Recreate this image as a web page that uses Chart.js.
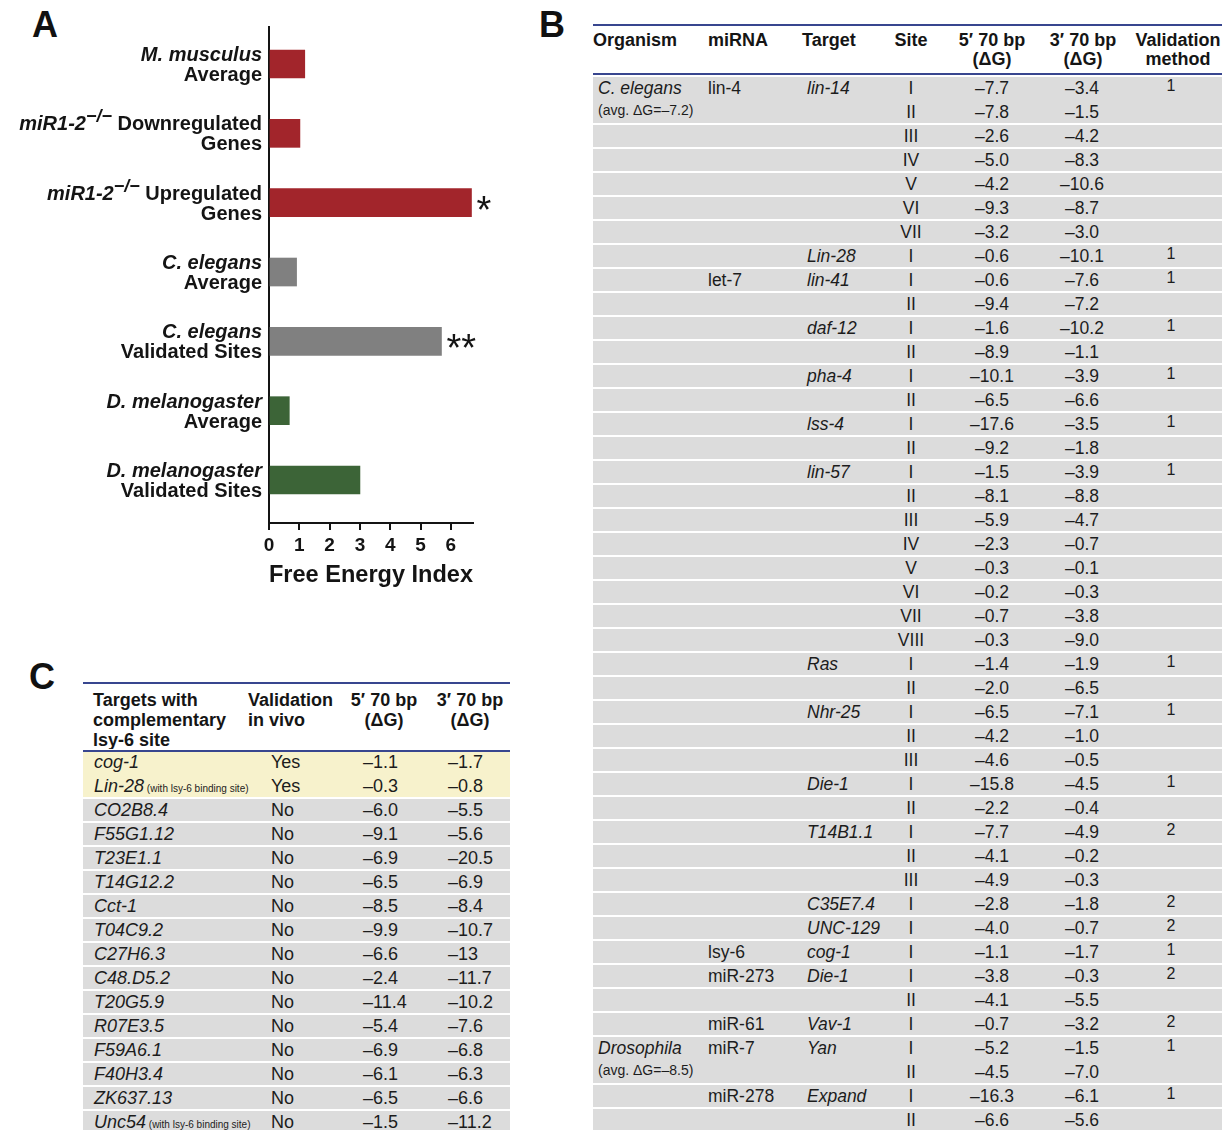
<!DOCTYPE html>
<html>
<head>
<meta charset="utf-8">
<title>Free energy of miRNA target flanks</title>
<script src="https://cdn.jsdelivr.net/npm/chart.js@4.4.0/dist/chart.umd.min.js"></script>
<style>
  html, body { margin: 0; padding: 0; background: #fff; }
  body {
    width: 1230px; height: 1130px; position: relative; overflow: hidden;
    font-family: "Liberation Sans", Arial, Helvetica, sans-serif; color: #1c1c1c;
  }
  .letter { position: absolute; font-weight: bold; font-size: 36px; line-height: 36px; color: #111; }
  #chartA { position: absolute; left: 0; top: 0; }
  .rule { position: absolute; height: 2px; background: #38468f; z-index: 3; }
  .row { position: absolute; box-sizing: border-box; height: 24px; border-top: 2px solid #fff; }
  .cell { position: absolute; top: 0; line-height: 22px; white-space: nowrap; z-index: 2; }
  .hdr { position: absolute; font-weight: bold; font-size: 18px; line-height: 19px; white-space: nowrap; color: #151515; }
  .c { text-align: center; }
  .i { font-style: italic; }
</style>
</head>
<body>
<div class="letter" style="left:32px; top:7px;">A</div>
<div class="letter" style="left:539px; top:7px;">B</div>
<div class="letter" style="left:29px; top:659px;">C</div>

<canvas id="chartA" width="520" height="600"></canvas>
<div id="tableB"></div>
<div id="tableC"></div>

<script>
// ---------- Panel A: free energy index per gene set ----------
const categoryLabels = [
  [[['M. musculus', 'bi']], [['Average', 'b']]],
  [[['miR1-2', 'bi'], ['\u2212/\u2212', 'sup'], [' Downregulated', 'b']], [['Genes', 'b']]],
  [[['miR1-2', 'bi'], ['\u2212/\u2212', 'sup'], [' Upregulated', 'b']], [['Genes', 'b']]],
  [[['C. elegans', 'bi']], [['Average', 'b']]],
  [[['C. elegans', 'bi']], [['Validated Sites', 'b']]],
  [[['D. melanogaster', 'bi']], [['Average', 'b']]],
  [[['D. melanogaster', 'bi']], [['Validated Sites', 'b']]]
];
const freeEnergyIndex = [1.18, 1.02, 6.68, 0.91, 5.69, 0.67, 3.0];
const significance = ['', '', '*', '', '**', '', ''];
const barColors = ['#a2252b', '#a2252b', '#a2252b', '#808080', '#808080', '#3c6437', '#3c6437'];
const xTicks = [0, 1, 2, 3, 4, 5, 6];

// ---------- Panel B: validated miRNA target sites ----------
const bOrganism = ['C. elegans', '', '', '', '', '', '', '', '', '', '', '', '', '', '', '', '', '', '', '', '', '', '', '', '', '', '', '', '', '', '', '', '', '', '', '', '', '', '', '', 'Drosophila', '', '', ''];
const bOrganismNote = ['(avg. \u0394G=\u20137.2)', '', '', '', '', '', '', '', '', '', '', '', '', '', '', '', '', '', '', '', '', '', '', '', '', '', '', '', '', '', '', '', '', '', '', '', '', '', '', '', '(avg. \u0394G=\u20138.5)', '', '', ''];
const bMirna = ['lin-4', '', '', '', '', '', '', '', 'let-7', '', '', '', '', '', '', '', '', '', '', '', '', '', '', '', '', '', '', '', '', '', '', '', '', '', '', '', 'lsy-6', 'miR-273', '', 'miR-61', 'miR-7', '', 'miR-278', ''];
const bTarget = ['lin-14', '', '', '', '', '', '', 'Lin-28', 'lin-41', '', 'daf-12', '', 'pha-4', '', 'lss-4', '', 'lin-57', '', '', '', '', '', '', '', 'Ras', '', 'Nhr-25', '', '', 'Die-1', '', 'T14B1.1', '', '', 'C35E7.4', 'UNC-129', 'cog-1', 'Die-1', '', 'Vav-1', 'Yan', '', 'Expand', ''];
const bSite = ['I', 'II', 'III', 'IV', 'V', 'VI', 'VII', 'I', 'I', 'II', 'I', 'II', 'I', 'II', 'I', 'II', 'I', 'II', 'III', 'IV', 'V', 'VI', 'VII', 'VIII', 'I', 'II', 'I', 'II', 'III', 'I', 'II', 'I', 'II', 'III', 'I', 'I', 'I', 'I', 'II', 'I', 'I', 'II', 'I', 'II'];
const bDG5 = ['\u20137.7', '\u20137.8', '\u20132.6', '\u20135.0', '\u20134.2', '\u20139.3', '\u20133.2', '\u20130.6', '\u20130.6', '\u20139.4', '\u20131.6', '\u20138.9', '\u201310.1', '\u20136.5', '\u201317.6', '\u20139.2', '\u20131.5', '\u20138.1', '\u20135.9', '\u20132.3', '\u20130.3', '\u20130.2', '\u20130.7', '\u20130.3', '\u20131.4', '\u20132.0', '\u20136.5', '\u20134.2', '\u20134.6', '\u201315.8', '\u20132.2', '\u20137.7', '\u20134.1', '\u20134.9', '\u20132.8', '\u20134.0', '\u20131.1', '\u20133.8', '\u20134.1', '\u20130.7', '\u20135.2', '\u20134.5', '\u201316.3', '\u20136.6'];
const bDG3 = ['\u20133.4', '\u20131.5', '\u20134.2', '\u20138.3', '\u201310.6', '\u20138.7', '\u20133.0', '\u201310.1', '\u20137.6', '\u20137.2', '\u201310.2', '\u20131.1', '\u20133.9', '\u20136.6', '\u20133.5', '\u20131.8', '\u20133.9', '\u20138.8', '\u20134.7', '\u20130.7', '\u20130.1', '\u20130.3', '\u20133.8', '\u20139.0', '\u20131.9', '\u20136.5', '\u20137.1', '\u20131.0', '\u20130.5', '\u20134.5', '\u20130.4', '\u20134.9', '\u20130.2', '\u20130.3', '\u20131.8', '\u20130.7', '\u20131.7', '\u20130.3', '\u20135.5', '\u20133.2', '\u20131.5', '\u20137.0', '\u20136.1', '\u20135.6'];
const bValidation = ['1', '', '', '', '', '', '', '1', '1', '', '1', '', '1', '', '1', '', '1', '', '', '', '', '', '', '', '1', '', '1', '', '', '1', '', '2', '', '', '2', '2', '1', '2', '', '2', '1', '', '1', ''];

// ---------- Panel C: candidate lsy-6 targets ----------
const cTarget = ['cog-1', 'Lin-28', 'CO2B8.4', 'F55G1.12', 'T23E1.1', 'T14G12.2', 'Cct-1', 'T04C9.2', 'C27H6.3', 'C48.D5.2', 'T20G5.9', 'R07E3.5', 'F59A6.1', 'F40H3.4', 'ZK637.13', 'Unc54'];
const cTargetNote = ['', '(with lsy-6 binding site)', '', '', '', '', '', '', '', '', '', '', '', '', '', '(with lsy-6 binding site)'];
const cValidated = ['Yes', 'Yes', 'No', 'No', 'No', 'No', 'No', 'No', 'No', 'No', 'No', 'No', 'No', 'No', 'No', 'No'];
const cDG5 = ['\u20131.1', '\u20130.3', '\u20136.0', '\u20139.1', '\u20136.9', '\u20136.5', '\u20138.5', '\u20139.9', '\u20136.6', '\u20132.4', '\u201311.4', '\u20135.4', '\u20136.9', '\u20136.1', '\u20136.5', '\u20131.5'];
const cDG3 = ['\u20131.7', '\u20130.8', '\u20135.5', '\u20135.6', '\u201320.5', '\u20136.9', '\u20138.4', '\u201310.7', '\u201313', '\u201311.7', '\u201310.2', '\u20137.6', '\u20136.8', '\u20136.3', '\u20136.6', '\u201311.2'];

// ---------- Panel A chart ----------
const FONT = '"Liberation Sans", Arial, Helvetica, sans-serif';
const INK = '#141414';
const Y_MIN = -0.534, Y_MAX = 6.62;

const runFont = {
  b: 'bold 20px ' + FONT,
  bi: 'italic bold 20px ' + FONT,
  sup: 'italic bold 18px ' + FONT
};

// Two-line, mixed-style category labels and significance stars
const categoryLabelPlugin = {
  id: 'categoryLabels',
  afterDraw(chart) {
    const { ctx, scales: { x, y } } = chart;
    const rightEdge = x.left - 7;
    ctx.save();
    ctx.fillStyle = INK;
    ctx.textAlign = 'left';
    ctx.textBaseline = 'alphabetic';
    categoryLabels.forEach((lines, i) => {
      const cy = y.getPixelForValue(i);
      lines.forEach((runs, li) => {
        const baseline = cy - 3 + li * 20;
        let total = 0;
        runs.forEach(([t, s]) => { ctx.font = runFont[s]; total += ctx.measureText(t).width; });
        let px = rightEdge - total;
        runs.forEach(([t, s]) => {
          ctx.font = runFont[s];
          ctx.fillText(t, px, s === 'sup' ? baseline - 8 : baseline);
          px += ctx.measureText(t).width;
        });
      });
      const star = significance[i];
      if (star) {
        ctx.font = '38px ' + FONT;
        const m = ctx.measureText(star);
        const sy = cy + (m.actualBoundingBoxAscent - m.actualBoundingBoxDescent) / 2;
        ctx.fillText(star, x.getPixelForValue(freeEnergyIndex[i]) + 5, sy);
      }
    });
    ctx.restore();
  }
};

new Chart(document.getElementById('chartA'), {
  type: 'bar',
  data: {
    datasets: [{
      data: freeEnergyIndex.map((v, i) => ({ x: v, y: i })),
      backgroundColor: barColors,
      borderWidth: 0,
      barThickness: 28
    }]
  },
  options: {
    indexAxis: 'y',
    responsive: false,
    animation: false,
    layout: { padding: { left: 0, top: 27, right: 47, bottom: 0 } },
    plugins: { legend: { display: false }, tooltip: { enabled: false } },
    scales: {
      y: {
        type: 'linear',
        reverse: true,
        bounds: 'data',
        offset: false,
        min: Y_MIN,
        max: Y_MAX,
        afterBuildTicks(scale) { scale.min = Y_MIN; scale.max = Y_MAX; },
        ticks: { display: false },
        grid: { display: false, offset: false },
        border: { display: true, color: INK, width: 2 },
        afterFit(scale) { scale.width = 269; }
      },
      x: {
        type: 'linear',
        min: 0,
        max: 6.73,
        afterBuildTicks(scale) { scale.ticks = xTicks.map(v => ({ value: v })); scale.min = 0; scale.max = 6.73; },
        ticks: {
          color: INK,
          font: { family: FONT, size: 19, weight: 'bold' },
          padding: 4,
          maxRotation: 0,
          autoSkip: false
        },
        grid: { drawOnChartArea: false, drawTicks: true, tickLength: 7, color: INK, lineWidth: 2 },
        border: { display: true, color: INK, width: 2 },
        title: {
          display: true,
          text: 'Free Energy Index',
          color: INK,
          font: { family: FONT, size: 24, weight: 'bold' },
          padding: { top: 0, bottom: 10 }
        },
        afterFit(scale) { scale.height = 77; }
      }
    }
  },
  plugins: [categoryLabelPlugin]
});

// ---------- Table helpers ----------
function el(tag, cls, style, text, parent) {
  const e = document.createElement(tag);
  if (cls) e.className = cls;
  if (style) e.setAttribute('style', style);
  if (text !== undefined && text !== null) e.textContent = text;
  parent.appendChild(e);
  return e;
}

function header(parent, left, top, lines, width, align) {
  const d = el('div', 'hdr', `left:${left}px;top:${top}px;` + (width ? `width:${width}px;text-align:${align};` : ''), null, parent);
  d.innerHTML = lines.join('<br>');
}

// ---------- Panel B table ----------
(function buildB() {
  const host = document.getElementById('tableB');
  const L = 593, W = 629;
  el('div', 'rule', `left:${L}px;top:24px;width:${W}px;`, null, host);
  el('div', 'rule', `left:${L}px;top:73px;width:${W}px;`, null, host);

  header(host, 593, 31, ['Organism']);
  header(host, 708, 31, ['miRNA']);
  header(host, 802, 31, ['Target']);
  header(host, 871, 31, ['Site'], 80, 'center');
  header(host, 947, 31, ['5\u2032 70 bp', '(\u0394G)'], 90, 'center');
  header(host, 1038, 31, ['3\u2032 70 bp', '(\u0394G)'], 90, 'center');
  header(host, 1130, 31, ['Validation', 'method'], 96, 'center');

  const continuation = bSite.map((s, i) => i > 0 && bOrganismNote[i - 1] !== '');
  bSite.forEach((site, i) => {
    const bg = '#dcdcdc';
    const row = el('div', 'row',
      `left:${L}px;top:${75 + 24 * i}px;width:${W}px;background:${bg};` +
      (continuation[i] ? `border-top-color:${bg};` : ''), null, host);
    const fs = 'font-size:17.5px;';
    if (bOrganism[i]) el('div', 'cell i', `left:5px;${fs}`, bOrganism[i], row);
    if (bOrganismNote[i]) el('div', 'cell', 'left:5px;top:24px;font-size:14px;line-height:19px;', bOrganismNote[i], row);
    if (bMirna[i]) el('div', 'cell', `left:115px;${fs}`, bMirna[i], row);
    if (bTarget[i]) el('div', 'cell i', `left:214px;${fs}`, bTarget[i], row);
    el('div', 'cell c', `left:288px;width:60px;${fs}`, site, row);
    el('div', 'cell c', `left:359px;width:80px;${fs}`, bDG5[i], row);
    el('div', 'cell c', `left:449px;width:80px;${fs}`, bDG3[i], row);
    if (bValidation[i]) el('div', 'cell c', `left:548px;width:60px;top:-2px;font-size:16px;`, bValidation[i], row);
  });
})();

// ---------- Panel C table ----------
(function buildC() {
  const host = document.getElementById('tableC');
  const L = 83, W = 427;
  el('div', 'rule', `left:${L}px;top:682px;width:${W}px;`, null, host);
  el('div', 'rule', `left:${L}px;top:750px;width:${W}px;`, null, host);

  const hs = 'line-height:20px;';
  const h1 = el('div', 'hdr', `left:93px;top:690px;${hs}`, null, host);
  h1.innerHTML = 'Targets with<br>complementary<br>lsy-6 site';
  const h2 = el('div', 'hdr', `left:248px;top:690px;${hs}`, null, host);
  h2.innerHTML = 'Validation<br>in vivo';
  const h3 = el('div', 'hdr c', `left:339px;top:690px;width:90px;${hs}`, null, host);
  h3.innerHTML = '5\u2032 70 bp<br>(\u0394G)';
  const h4 = el('div', 'hdr c', `left:425px;top:690px;width:90px;${hs}`, null, host);
  h4.innerHTML = '3\u2032 70 bp<br>(\u0394G)';

  cTarget.forEach((t, i) => {
    const bg = cValidated[i] === 'Yes' ? '#f7f2cc' : '#dcdcdc';
    const cont = i > 0 && cValidated[i] === 'Yes' && cValidated[i - 1] === 'Yes';
    const row = el('div', 'row',
      `left:${L}px;top:${749 + 24 * i}px;width:${W}px;background:${bg};` +
      (cont ? `border-top-color:${bg};` : ''), null, host);
    const fs = 'font-size:18px;';
    const tc = el('div', 'cell', `left:11px;${fs}`, null, row);
    el('span', 'i', null, t, tc);
    if (cTargetNote[i]) el('span', null, 'font-size:10px;', ' ' + cTargetNote[i], tc);
    el('div', 'cell', `left:188px;${fs}`, cValidated[i], row);
    el('div', 'cell', `left:280px;${fs}`, cDG5[i], row);
    el('div', 'cell', `left:365px;${fs}`, cDG3[i], row);
  });
})();
</script>
</body>
</html>
